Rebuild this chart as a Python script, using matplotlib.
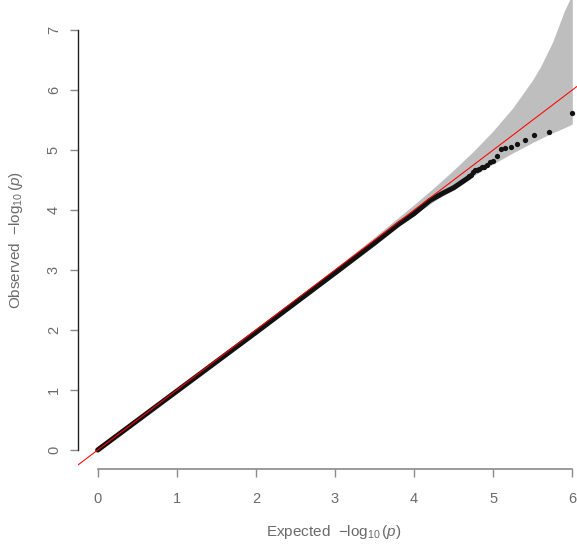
import matplotlib
matplotlib.use("Agg")
import matplotlib.pyplot as plt

plt.rcParams['font.family'] = ['Liberation Sans', 'DejaVu Sans']
plt.rcParams['mathtext.fontset'] = 'custom'
plt.rcParams['mathtext.rm'] = 'Liberation Sans'
plt.rcParams['mathtext.it'] = 'Liberation Sans:italic'

# dense part of the QQ curve (expected vs observed -log10 p)
bulk_expected = [0, 1, 2, 3, 3.5, 3.8, 4.0, 4.2, 4.35, 4.5, 4.6, 4.7]
bulk_observed = [0, 0.98, 1.96, 2.95, 3.45, 3.76, 3.94, 4.16, 4.27, 4.37, 4.46, 4.55]

# sparse tail, one dot per p-value
tail_expected = [6.0, 5.70, 5.52, 5.40, 5.30, 5.22, 5.155, 5.097, 5.046, 5.0,
                 4.96, 4.92, 4.886, 4.854, 4.824, 4.796, 4.77, 4.745, 4.72, 4.70]
tail_observed = [5.62, 5.30, 5.25, 5.17, 5.10, 5.05, 5.03, 5.01, 4.90, 4.82,
                 4.80, 4.75, 4.72, 4.71, 4.69, 4.67, 4.66, 4.63, 4.59, 4.56]

# 95% confidence band
band_expected = [0, 2, 2.5, 3, 3.5, 4, 4.25, 4.5, 4.75, 5, 5.25, 5.5, 5.6, 5.75, 5.9, 6]
band_upper = [0, 2.0085, 2.5153, 3.0274, 3.5496, 4.0896, 4.3716, 4.667, 4.979,
              5.320, 5.706, 6.171, 6.394, 6.797, 7.32, 7.597]
band_lower = [0, 1.9915, 2.4850, 2.9735, 3.4537, 3.919, 4.1436, 4.361, 4.569,
              4.767, 4.953, 5.126, 5.192, 5.286, 5.37, 5.433]

x_ticks = [0, 1, 2, 3, 4, 5, 6]
y_ticks = [0, 1, 2, 3, 4, 5, 6, 7]

W, H = 577, 544
fig = plt.figure(figsize=(W / 100, H / 100), dpi=100)
left_px, bottom_px = 78.3, 469
ax = fig.add_axes([left_px / W, (H - bottom_px) / H, (W - left_px) / W, bottom_px / H])

x0, xs = 97.7, 79.1   # pixel of x=0, pixels per unit
y0, ys = 450, 60
ax.set_xlim((left_px - x0) / xs, (W - x0) / xs)
ax.set_ylim((y0 - bottom_px) / ys, y0 / ys)

grey_txt = '#6a6a6a'
ax.fill_between(band_expected, band_lower, band_upper, color='#bebebe', lw=0, zorder=1)
ax.plot(bulk_expected, bulk_observed, color='#111111', lw=3.7,
        solid_capstyle='round', solid_joinstyle='round', zorder=2)
ax.plot(tail_expected, tail_observed, 'o', color='#111111', ms=3.8, mew=0, zorder=2)
ax.axline((0, 0), slope=1, color='red', lw=0.75, zorder=3)

for s in ['top', 'right']:
    ax.spines[s].set_visible(False)
ax.spines['left'].set_bounds(0, 7)
ax.spines['left'].set_color('#222222')
ax.spines['bottom'].set_bounds(0, 6)
ax.spines['bottom'].set_color('#8a8a8a')
ax.spines['left'].set_linewidth(1.0)
ax.spines['bottom'].set_linewidth(1.2)

ax.set_xticks(x_ticks)
ax.set_yticks(y_ticks)
ax.tick_params(axis='both', direction='out', length=5.5, width=1, color='#8a8a8a',
               labelcolor=grey_txt, labelsize=10.5)
ax.tick_params(axis='x', pad=11)
ax.tick_params(axis='y', pad=7)
for lab in ax.get_yticklabels():
    lab.set_rotation(90)
    lab.set_va('center')

ax.set_xlabel(r'Expected  $-\log_{10}(p)$', color=grey_txt, fontsize=11)
ax.set_ylabel(r'Observed  $-\log_{10}(p)$', color=grey_txt, fontsize=11)
ax.xaxis.set_label_coords((334 - left_px) / (W - left_px), (bottom_px - 523) / bottom_px)
ax.yaxis.set_label_coords((25 - left_px) / (W - left_px), (bottom_px - 240) / bottom_px)

fig.savefig('out.png', dpi=100)
